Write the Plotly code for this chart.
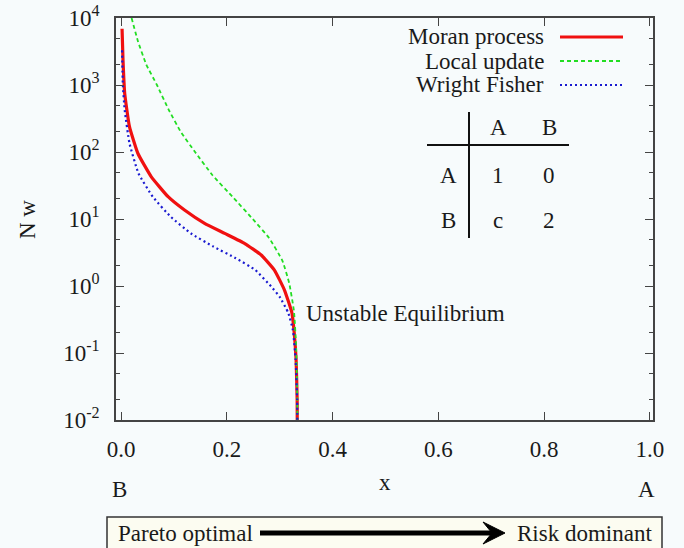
import plotly.graph_objects as go

# ---- data ----
moran_x = [0.002, 0.0038, 0.007, 0.016, 0.032, 0.057, 0.089, 0.120, 0.158, 0.196,
           0.234, 0.265, 0.290, 0.309, 0.323, 0.327, 0.331, 0.333, 0.3333]
moran_y = [6900, 2350, 750, 239, 95, 43, 21.5, 13.6, 8.6, 6.1,
           4.3, 2.9, 1.73, 0.87, 0.40, 0.22, 0.08, 0.02, 0.005]

local_x = [0.020, 0.032, 0.048, 0.068, 0.090, 0.113, 0.140, 0.173, 0.212, 0.249,
           0.280, 0.305, 0.318, 0.327, 0.331, 0.3333, 0.3334]
local_y = [10000, 4500, 2000, 1000, 430, 200, 100, 45, 21, 10,
           5.2, 2.4, 1.1, 0.42, 0.13, 0.02, 0.005]

wf_x = [0.002, 0.0035, 0.007, 0.016, 0.033, 0.060, 0.094, 0.132, 0.174, 0.217,
        0.254, 0.284, 0.300, 0.316, 0.325, 0.330, 0.333, 0.3333]
wf_y = [3300, 1000, 424, 135, 48, 21.5, 10.8, 6.1, 3.9, 2.6,
        1.73, 0.98, 0.69, 0.40, 0.22, 0.08, 0.02, 0.005]

x_ticks = [0.0, 0.2, 0.4, 0.6, 0.8, 1.0]
x_tick_text = ["0.0", "0.2", "0.4", "0.6", "0.8", "1.0"]
y_ticks = [1e-2, 1e-1, 1e0, 1e1, 1e2, 1e3, 1e4]
y_tick_text = ["10<sup>-2</sup>", "10<sup>-1</sup>", "10<sup>0</sup>", "10<sup>1</sup>",
               "10<sup>2</sup>", "10<sup>3</sup>", "10<sup>4</sup>"]
y_minor = [m * 10 ** k for k in range(-2, 4) for m in (2, 5)]

series_names = ["Moran process", "Local update", "Wright Fisher"]
series_colors = ["#f01010", "#22dd22", "#1a1ad0"]

table_cols = ["A", "B"]
table_rows = ["A", "B"]
table_vals = [["1", "0"], ["c", "2"]]

FONT = "Liberation Serif"
TXT = "#1a1a1a"
BG = "#f7fbfc"

fig = go.Figure()
fig.add_trace(go.Scatter(x=moran_x, y=moran_y, mode="lines", name=series_names[0],
                         line=dict(color=series_colors[0], width=3.2, shape="spline", smoothing=0.4)))
fig.add_trace(go.Scatter(x=local_x, y=local_y, mode="lines", name=series_names[1],
                         line=dict(color=series_colors[1], width=1.8, dash="4px,3px", shape="spline", smoothing=0.4)))
fig.add_trace(go.Scatter(x=wf_x, y=wf_y, mode="lines", name=series_names[2],
                         line=dict(color=series_colors[2], width=2.2, dash="2px,3px", shape="spline", smoothing=0.4)))

L, R, T, B = 116, 31, 18, 128
W, H = 684, 548
PW, PH = W - L - R, H - T - B


def px(xp):
    return (xp - L) / PW


def py(yp):
    return (H - B - yp) / PH


ann = []
shapes = []


def text(xp, yp, s, xa="center", ya="middle", angle=0):
    ann.append(dict(x=px(xp), y=py(yp), xref="paper", yref="paper", text=s,
                    showarrow=False, xanchor=xa, yanchor=ya, textangle=angle,
                    font=dict(family=FONT, size=23, color=TXT)))


# custom legend
leg_rows = [37, 61, 85]
dashes = ["solid", "4px,3px", "2px,3px"]
widths = [3.2, 1.8, 2.2]
for name, col, yy, d, w in zip(series_names, series_colors, leg_rows, dashes, widths):
    text(546, yy, name, xa="right")
    shapes.append(dict(type="line", xref="paper", yref="paper", x0=px(560), x1=px(623),
                       y0=py(yy), y1=py(yy), line=dict(color=col, width=w, dash=d)))

# payoff table
shapes.append(dict(type="line", xref="paper", yref="paper", x0=px(469), x1=px(469),
                   y0=py(112), y1=py(238), line=dict(color="#111", width=2)))
shapes.append(dict(type="line", xref="paper", yref="paper", x0=px(427), x1=px(569),
                   y0=py(145), y1=py(145), line=dict(color="#111", width=2)))
col_x = [498, 549]
row_y = [175, 220]
for c, cx in zip(table_cols, col_x):
    text(cx, 128, c)
for r, ry, vals in zip(table_rows, row_y, table_vals):
    text(448, ry, r)
    for v, cx in zip(vals, col_x):
        text(cx, ry, v)

text(304, 313, "Unstable Equilibrium", xa="left")

# axis title and end labels
text(27, 220, "N w", angle=-90)
text(119, 489, "B")
text(385, 482, "x")
text(646, 489, "A")

# bottom box
shapes.append(dict(type="rect", xref="paper", yref="paper", x0=px(107), x1=px(662),
                   y0=py(517), y1=py(560), fillcolor="#fcfcf1", line=dict(color="#333", width=1.5),
                   layer="below"))
text(116, 533, "Pareto optimal", xa="left")
text(654, 533, "Risk dominant", xa="right")
shapes.append(dict(type="line", xref="paper", yref="paper", x0=px(260), x1=px(492),
                   y0=py(533), y1=py(533), line=dict(color="#000", width=5)))
tip, back, notch, hh = px(505), px(483), px(492), 11 / PH
yc = py(533)
shapes.append(dict(type="path", xref="paper", yref="paper",
                   path=f"M {tip},{yc} L {back},{yc + hh} L {notch},{yc} L {back},{yc - hh} Z",
                   fillcolor="#000", line=dict(color="#000", width=1)))

axis_common = dict(showline=True, linecolor="#444", linewidth=1.5, mirror="ticks",
                   ticks="inside", ticklen=8, tickwidth=1.2, tickcolor="#444",
                   showgrid=False, zeroline=False, automargin=False,
                   tickfont=dict(family=FONT, size=23, color=TXT))

fig.update_layout(
    width=W, height=H,
    margin=dict(l=L, r=R, t=T, b=B, autoexpand=False),
    paper_bgcolor=BG, plot_bgcolor=BG,
    showlegend=False,
    xaxis=dict(range=[-0.00945, 1.0057], tickvals=x_ticks, ticktext=x_tick_text,
               ticklabelstandoff=8, **axis_common),
    yaxis=dict(type="log", range=[-2, 4], tickvals=y_ticks, ticktext=y_tick_text,
               ticklabelstandoff=10,
               minor=dict(tickvals=y_minor, ticks="inside", ticklen=4, tickcolor="#444", tickwidth=1),
               **axis_common),
    annotations=ann,
    shapes=shapes,
)

fig.write_html("out.html", config={"displayModeBar": False},
               post_script="document.body.style.margin='0';document.body.style.background='%s';" % BG)
